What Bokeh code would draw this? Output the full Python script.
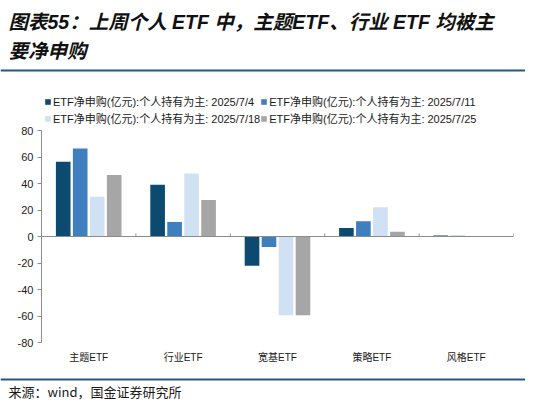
#Grouped bar chart of ETF net subscriptions (individual holders)

#Importing the required packages

from bokeh.plotting import figure
from bokeh.layouts import column
from bokeh.models import (ColumnDataSource, FactorRange, Range1d, Span, Label,
                          Legend, LegendItem)
from bokeh.transform import dodge
from bokeh.embed import file_html
from bokeh.resources import INLINE

#Data

categories = ["主题ETF", "行业ETF", "宽基ETF", "策略ETF", "风格ETF"]

week_0704 = [56.5, 39.0, -22.0, 6.5, 0.8]
week_0711 = [66.5, 11.0, -8.0, 11.5, 0.5]
week_0718 = [30.0, 47.5, -59.5, 22.0, 0.3]
week_0725 = [46.5, 27.5, -59.5, 3.5, 0.4]

series_names = ["ETF净申购(亿元):个人持有为主: 2025/7/4",
                "ETF净申购(亿元):个人持有为主: 2025/7/11",
                "ETF净申购(亿元):个人持有为主: 2025/7/18",
                "ETF净申购(亿元):个人持有为主: 2025/7/25"]

y_ticks = [-80, -60, -40, -20, 0, 20, 40, 60, 80]

title_line1 = "图表55：上周个人 ETF 中，主题ETF、行业 ETF 均被主"
title_line2 = "要净申购"
source_text = "来源：wind，国金证券研究所"

#Styles

colors = ["#0d4a70", "#3f7fbf", "#cfe1f2", "#a6a6a6"]
offsets = [-0.27, -0.09, 0.09, 0.27]
font = "Liberation Sans, Noto Sans CJK SC"
rule_color = "#1f5a85"
W = 525

#Helper for plain text panels (title on top, source note at the bottom)

def text_panel(h):
    p = figure(width=W, height=h, x_range=Range1d(0, W), y_range=Range1d(h, 0),
               x_axis_type=None, y_axis_type=None, output_backend="svg",
               toolbar_location=None)
    p.min_border = 0
    p.min_border_left = 0
    p.min_border_right = 0
    p.min_border_top = 0
    p.min_border_bottom = 0
    p.frame_align = False
    p.outline_line_color = None
    p.grid.grid_line_color = None
    return p

#Title panel

top = text_panel(78)
for txt, mid in [(title_line1, 21), (title_line2, 50.5)]:
    top.add_layout(Label(x=8, y=mid, text=txt, text_font=font,
                         text_font_size="19.5px", text_font_style="bold italic",
                         text_color="#111111", text_baseline="middle"))
top.add_layout(Span(location=70, dimension="width", line_color=rule_color,
                    line_width=2))

#Chart panel (frame spans x 41..513, y 84..342; axis drawn from -80 to 80)

H = 294
frame_top, zero_top, frame_bottom = 84, 130, 342
y_max = 80 + (zero_top - frame_top) * 160 / (frame_bottom - zero_top)

source = ColumnDataSource(data=dict(cat=categories, a=week_0704, b=week_0711,
                                    c=week_0718, d=week_0725))

plot = figure(width=W, height=H, x_range=FactorRange(*categories),
              y_range=Range1d(-80, y_max), output_backend="svg",
              toolbar_location=None)
plot.min_border_left = 41
plot.min_border_right = W - 513
plot.min_border_top = frame_top - 78
plot.min_border_bottom = 78 + H - frame_bottom
plot.frame_align = False
plot.outline_line_color = None
plot.grid.grid_line_color = None

#Bars

renderers = []
for col, off, c in zip(["a", "b", "c", "d"], offsets, colors):
    r = plot.vbar(x=dodge("cat", off, range=plot.x_range), top=col, bottom=0,
                  width=0.155, source=source, fill_color=c, line_color=None)
    renderers.append(r)

#Zero line and category separator ticks

plot.add_layout(Span(location=0, dimension="width", line_color="#8c8c8c",
                     line_width=1))
tick_src = ColumnDataSource(data=dict(cat=categories, y0=[0] * len(categories),
                                      y1=[2.3] * len(categories)))
plot.segment(x0=dodge("cat", -0.5, range=plot.x_range), y0="y0",
             x1=dodge("cat", -0.5, range=plot.x_range), y1="y1",
             source=tick_src, line_color="#8c8c8c")
end_src = ColumnDataSource(data=dict(cat=categories[-1:], y0=[0], y1=[2.3]))
plot.segment(x0=dodge("cat", 0.5, range=plot.x_range), y0="y0",
             x1=dodge("cat", 0.5, range=plot.x_range), y1="y1",
             source=end_src, line_color="#8c8c8c")

#Axes

plot.yaxis.ticker = y_ticks
plot.yaxis.bounds = (-80, 80)
plot.yaxis.major_label_overrides = {t: str(t) for t in y_ticks}
plot.yaxis.axis_line_color = "#8c8c8c"
plot.yaxis.major_tick_line_color = "#8c8c8c"
plot.yaxis.major_tick_out = 4
plot.yaxis.major_tick_in = 0
plot.yaxis.minor_tick_line_color = None
plot.yaxis.major_label_standoff = 4
plot.yaxis.major_label_text_font = font
plot.yaxis.major_label_text_font_size = "11px"
plot.yaxis.major_label_text_color = "#1a1a1a"

plot.xaxis.axis_line_color = None
plot.xaxis.major_tick_line_color = None
plot.xaxis.major_label_standoff = 3
plot.xaxis.major_label_text_font = font
plot.xaxis.major_label_text_font_size = "10px"
plot.xaxis.major_label_text_color = "#1a1a1a"

#Legend

items = [LegendItem(label=n, renderers=[r]) for n, r in zip(series_names, renderers)]
legend = Legend(items=items, location=(3, frame_bottom - 126.5),
                orientation="horizontal", ncols=2)
legend.glyph_width = 7
legend.glyph_height = 7
legend.label_height = 17
legend.label_standoff = 2
legend.spacing = 0
legend.padding = 0
legend.margin = 0
legend.label_text_font = font
legend.label_text_font_size = "11px"
legend.label_text_color = "#1a1a1a"
legend.background_fill_alpha = 0
legend.border_line_color = None
plot.add_layout(legend)

#Source panel (rule at y=379, note centred near y=391 of the whole picture)

bottom = text_panel(400 - 78 - H)
bottom.add_layout(Span(location=7, dimension="width", line_color=rule_color,
                       line_width=2))
bottom.add_layout(Label(x=8, y=19, text=source_text, text_font="Noto Sans CJK SC",
                        text_font_size="13px", text_color="#1a1a1a",
                        text_baseline="middle"))

#Output the plot

layout = column(top, plot, bottom, spacing=0)
open("out.html", "w").write(file_html(layout, INLINE))
